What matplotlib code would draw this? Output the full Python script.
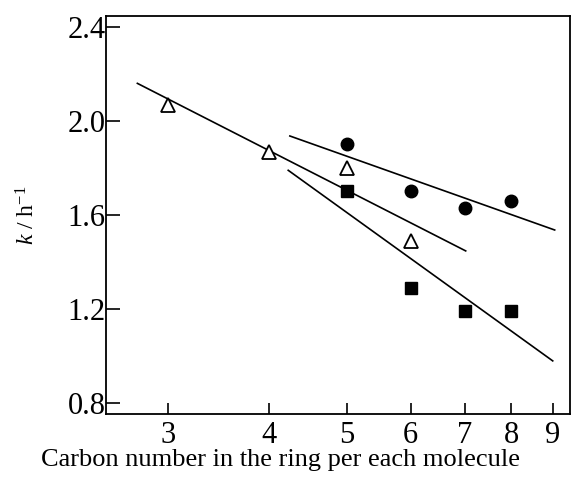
import matplotlib
matplotlib.use("Agg")
import matplotlib.pyplot as plt
from matplotlib.ticker import FixedLocator, NullLocator

plt.rcParams['font.family'] = ['Liberation Serif', 'DejaVu Serif']
plt.rcParams['mathtext.fontset'] = 'custom'
plt.rcParams['mathtext.rm'] = 'Liberation Serif'
plt.rcParams['mathtext.it'] = 'Liberation Serif:italic'

# rate constants vs carbon number
tri_n = [3, 4, 5, 6]
tri_k = [2.07, 1.87, 1.80, 1.49]
circ_n = [5, 6, 7, 8]
circ_k = [1.90, 1.70, 1.63, 1.66]
sq_n = [5, 6, 7, 8]
sq_k = [1.70, 1.29, 1.19, 1.19]

# fitted trend lines (end points)
tri_fit_n = [2.75, 7.02]
tri_fit_k = [2.16, 1.447]
circ_fit_n = [4.25, 9.05]
circ_fit_k = [1.936, 1.536]
sq_fit_n = [4.23, 9.0]
sq_fit_k = [1.79, 0.979]

xticks = [3, 4, 5, 6, 7, 8, 9]
yticks = [0.8, 1.2, 1.6, 2.0, 2.4]

fig = plt.figure(figsize=(5.75, 4.97), dpi=100)
ax = fig.add_axes([0.184, 0.167, 0.807, 0.801])

lw = 1.2
ax.plot(tri_fit_n, tri_fit_k, color='black', lw=lw)
ax.plot(circ_fit_n, circ_fit_k, color='black', lw=lw)
ax.plot(sq_fit_n, sq_fit_k, color='black', lw=lw)

ax.plot(tri_n, tri_k, linestyle='none', marker='^', ms=10, mfc='white',
        mec='black', mew=1.3)
ax.plot(circ_n, circ_k, linestyle='none', marker='o', ms=9, color='black')
ax.plot(sq_n, sq_k, linestyle='none', marker='s', ms=8.5, color='black')

ax.set_xscale('log')
ax.set_xlim(2.513, 9.45)
ax.set_ylim(0.753, 2.447)
ax.xaxis.set_major_locator(FixedLocator(xticks))
ax.xaxis.set_minor_locator(NullLocator())
ax.set_xticklabels([str(t) for t in xticks])
ax.set_yticks(yticks)
ax.set_yticklabels([f"{t:.1f}" for t in yticks])

ax.tick_params(axis='both', direction='in', labelsize=22, width=1.2)
ax.tick_params(axis='y', length=10, pad=0)
ax.tick_params(axis='x', length=8, pad=5)

for s in ax.spines.values():
    s.set_linewidth(1.3)

fig.text(0.049, 0.567, r'$\mathit{k}$ / h$^{-1}$', fontsize=17,
         rotation=90, ha='center', va='center')
fig.text(0.487, 0.062, 'Carbon number in the ring per each molecule',
         fontsize=19, ha='center', va='baseline')

fig.savefig('out.png', dpi=100)
